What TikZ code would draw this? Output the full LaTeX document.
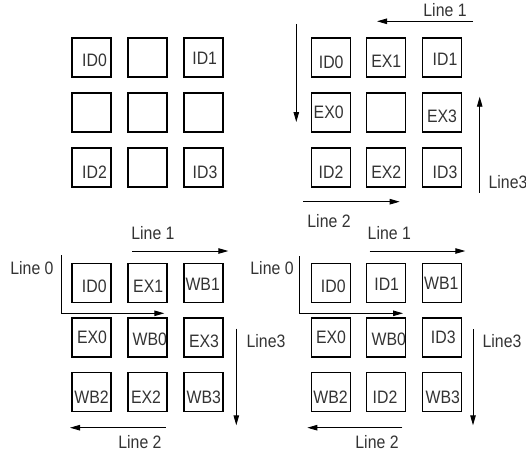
\documentclass[tikz,border=0pt]{standalone}
\usepackage{fontspec}
\setmainfont[FakeStretch=0.88]{Liberation Sans}
\usetikzlibrary{arrows.meta}
\definecolor{ink}{HTML}{333333}
\tikzset{
  cell/.style={draw=black, line width=1.3pt, minimum size=39pt, inner sep=0pt},
  tag/.style={text=ink, font=\fontsize{18}{18}\selectfont, inner sep=0pt},
  flow/.style={draw=black, line width=0.9pt, -{Triangle[length=10pt,width=5.5pt]}},
}
\newcommand{\cellat}[3]{\node[cell] (#1) at (#2,#3) {};}
\newcommand{\tagat}[4]{\node[tag] (#1) at (#2,#3) {#4};}
\begin{document}
\begin{tikzpicture}[x=1pt,y=-1pt]
\useasboundingbox (0,0) rectangle (526,452);

% ---- top left: the 3x3 grid with the four decode stages
\foreach \c/\x in {1/91.5,2/147.5,3/203.5}
  \foreach \r/\y in {1/57.5,2/112.5,3/167.5}
    {\cellat{a\r\c}{\x}{\y}}
\tagat{ta11}{94.5}{60.3}{ID0}
\tagat{ta13}{204.7}{58.7}{ID1}
\tagat{ta31}{94.5}{172}{ID2}
\tagat{ta33}{205}{172}{ID3}

% ---- top right: decode and execute
\foreach \c/\x in {1/330.7,2/386.2,3/442.3}
  \foreach \r/\y in {1/57.5,2/112.5,3/167.5}
    {\cellat{b\r\c}{\x}{\y}}
\tagat{tb11}{331.2}{62.3}{ID0}
\tagat{tb12}{386.3}{61.7}{EX1}
\tagat{tb13}{445}{59.3}{ID1}
\tagat{tb21}{328.7}{112.7}{EX0}
\tagat{tb23}{442}{116}{EX3}
\tagat{tb31}{331}{172.3}{ID2}
\tagat{tb32}{386.3}{172.3}{EX2}
\tagat{tb33}{445}{172.3}{ID3}

\coordinate (b1s) at (473,21.3);   \coordinate (b1e) at (377,21.3);
\coordinate (b0s) at (296.3,24);   \coordinate (b0e) at (296.3,122);
\coordinate (b3s) at (479.7,192.7); \coordinate (b3e) at (479.7,96.7);
\coordinate (b2s) at (303,201.7);  \coordinate (b2e) at (399.7,201.7);
\draw[flow] (b1s) -- (b1e);
\draw[flow] (b0s) -- (b0e);
\draw[flow] (b3s) -- (b3e);
\draw[flow] (b2s) -- (b2e);
\tagat{lb1}{445}{10}{Line 1}
\tagat{lb3}{508}{181.7}{Line3}
\tagat{lb2}{329}{221}{Line 2}

% ---- bottom left: decode, execute and write back
\foreach \c/\x in {1/91.5,2/147.5,3/203.5}
  \foreach \r/\y in {1/282.7,2/337.5,3/392.3}
    {\cellat{c\r\c}{\x}{\y}}
\tagat{tc11}{94.3}{286.7}{ID0}
\tagat{tc12}{148.2}{286.7}{EX1}
\tagat{tc13}{202.7}{284}{WB1}
\tagat{tc21}{92}{337.7}{EX0}
\tagat{tc22}{149.8}{339.3}{WB0}
\tagat{tc23}{204}{341}{EX3}
\tagat{tc31}{91.5}{397}{WB2}
\tagat{tc32}{146}{397}{EX2}
\tagat{tc33}{203.8}{397}{WB3}

\coordinate (c1s) at (132.3,251);  \coordinate (c1e) at (228.3,251);
\coordinate (c0s) at (61,255.3);   \coordinate (c0k) at (61,313.3);
\coordinate (c0e) at (164.3,313.3);
\coordinate (c3s) at (236.3,328.7); \coordinate (c3e) at (236.3,425.3);
\coordinate (c2s) at (165.7,427.7); \coordinate (c2e) at (70,427.7);
\draw[flow] (c1s) -- (c1e);
\draw[flow] (c0s) -- (c0k) -- (c0e);
\draw[flow] (c3s) -- (c3e);
\draw[flow] (c2s) -- (c2e);
\tagat{lc1}{153}{233}{Line 1}
\tagat{lc0}{32}{268.5}{Line 0}
\tagat{lc3}{266}{341}{Line3}
\tagat{lc2}{140}{442.5}{Line 2}

% ---- bottom right: decode, execute and write back, second schedule
\foreach \c/\x in {1/330.8,2/386.3,3/442}
  \foreach \r/\y in {1/282.7,2/337.5,3/392.3}
    {\cellat{d\r\c}{\x}{\y}}
\tagat{td11}{333.3}{286.7}{ID0}
\tagat{td12}{386.7}{284.3}{ID1}
\tagat{td13}{441.3}{283}{WB1}
\tagat{td21}{331}{337.7}{EX0}
\tagat{td22}{388.8}{339.7}{WB0}
\tagat{td23}{443.3}{337.7}{ID3}
\tagat{td31}{330.5}{397}{WB2}
\tagat{td32}{385}{397}{ID2}
\tagat{td33}{442.8}{397}{WB3}

\coordinate (d1s) at (369.7,251);  \coordinate (d1e) at (465.3,251);
\coordinate (d0s) at (299,256);    \coordinate (d0k) at (299,313.3);
\coordinate (d0e) at (403,313.3);
\coordinate (d3s) at (473,329.3);  \coordinate (d3e) at (473,425.3);
\coordinate (d2s) at (402.3,427.7); \coordinate (d2e) at (307.3,427.7);
\draw[flow] (d1s) -- (d1e);
\draw[flow] (d0s) -- (d0k) -- (d0e);
\draw[flow] (d3s) -- (d3e);
\draw[flow] (d2s) -- (d2e);
\tagat{ld1}{389.3}{233}{Line 1}
\tagat{ld0}{272}{268}{Line 0}
\tagat{ld3}{502}{341}{Line3}
\tagat{ld2}{377}{442.5}{Line 2}
\end{tikzpicture}
\end{document}
